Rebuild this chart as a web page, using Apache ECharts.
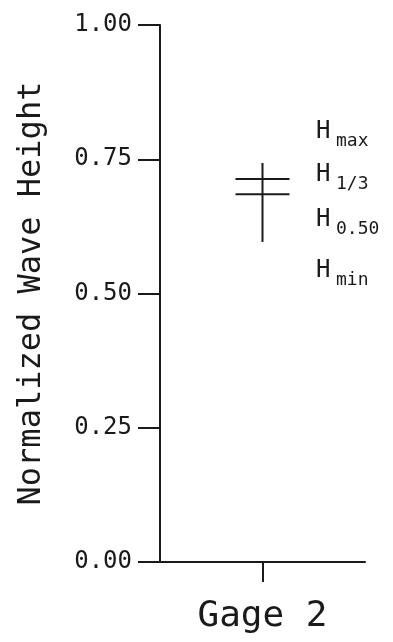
<!DOCTYPE html>
<html>
<head>
<meta charset="utf-8">
<script src="https://cdn.jsdelivr.net/npm/echarts@6/dist/echarts.min.js"></script>
<style>
  html, body { margin: 0; padding: 0; background: #ffffff; }
  #chart { width: 393px; height: 642px; }
</style>
</head>
<body>
<div id="chart"></div>
<script>
// Gage categories and normalized wave-height statistics
const gages = ['Gage 2'];
const hMax = [0.743];
const hThird = [0.713];
const hMedian = [0.685];
const hMin = [0.596];

// Key entries on the right: main letter + subscript
const keyItems = [
  { main: 'H', sub: 'max' },
  { main: 'H', sub: '1/3' },
  { main: 'H', sub: '0.50' },
  { main: 'H', sub: 'min' }
];

const ink = '#1a1a1a';
const font = '"DejaVu Sans Mono", "Liberation Mono", monospace';

const chart = echarts.init(document.getElementById('chart'), null, { renderer: 'canvas' });

const seriesData = gages.map((g, i) => [i, hMax[i], hThird[i], hMedian[i], hMin[i]]);

// Key layout (text positions in px)
const keyTop = [130, 173, 218, 269];
const keyGraphics = [];
keyItems.forEach((k, i) => {
  keyGraphics.push({
    type: 'text', left: 316, top: keyTop[i] - 10,
    style: { text: k.main, font: '24px ' + font, fill: ink }
  });
  keyGraphics.push({
    type: 'text', left: 336, top: keyTop[i] + 2,
    style: { text: k.sub, font: '18px ' + font, fill: ink }
  });
});

chart.setOption({
  backgroundColor: '#ffffff',
  animation: false,
  grid: { left: 160, right: 28, top: 25, bottom: 80, containLabel: false },
  xAxis: {
    type: 'category',
    data: gages,
    boundaryGap: true,
    axisLine: { show: true, lineStyle: { color: ink, width: 2 } },
    axisTick: { show: true, alignWithLabel: true, length: 20, lineStyle: { color: ink, width: 2 } },
    axisLabel: { color: ink, fontFamily: font, fontSize: 36, margin: 37 },
    splitLine: { show: false }
  },
  yAxis: {
    type: 'value',
    min: 0,
    max: 1,
    interval: 0.25,
    name: 'Normalized Wave Height',
    nameLocation: 'middle',
    nameRotate: 90,
    nameGap: 112,
    nameTextStyle: { color: ink, fontFamily: font, fontSize: 32 },
    axisLine: { show: true, lineStyle: { color: ink, width: 2 } },
    axisTick: { show: true, length: 22, lineStyle: { color: ink, width: 2 } },
    axisLabel: {
      color: ink, fontFamily: font, fontSize: 24, margin: 28,
      formatter: v => v.toFixed(2)
    },
    splitLine: { show: false }
  },
  series: [{
    type: 'custom',
    data: seriesData,
    encode: { x: 0, y: [1, 2, 3, 4] },
    renderItem: function (params, api) {
      const idx = api.value(0);
      const top = api.coord([idx, api.value(1)]);
      const third = api.coord([idx, api.value(2)]);
      const med = api.coord([idx, api.value(3)]);
      const bot = api.coord([idx, api.value(4)]);
      const half = 27;
      const st = { stroke: ink, lineWidth: 2 };
      return {
        type: 'group',
        children: [
          { type: 'line', shape: { x1: top[0], y1: top[1], x2: bot[0], y2: bot[1] }, style: st },
          { type: 'line', shape: { x1: third[0] - half, y1: third[1], x2: third[0] + half, y2: third[1] }, style: st },
          { type: 'line', shape: { x1: med[0] - half, y1: med[1], x2: med[0] + half, y2: med[1] }, style: st }
        ]
      };
    }
  }],
  graphic: keyGraphics
});
</script>
</body>
</html>
